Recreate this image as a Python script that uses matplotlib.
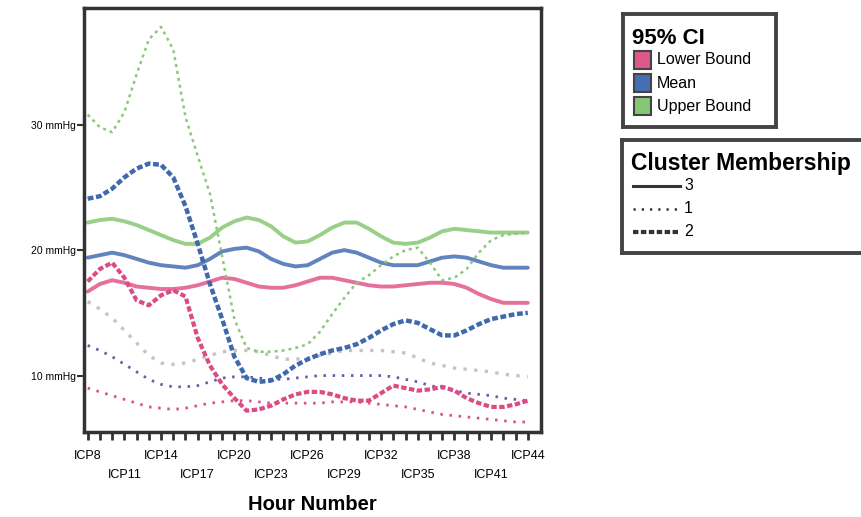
import numpy as np
import matplotlib
matplotlib.use("Agg")
import matplotlib.pyplot as plt
from matplotlib.patches import Rectangle
from matplotlib.lines import Line2D

plt.rcParams['font.family'] = ['Liberation Sans', 'DejaVu Sans']

hours = list(range(8, 45))
tick_labels = ["ICP%d" % h for h in hours]

# cluster 3 (solid)
c3_lower = [16.7, 17.3, 17.6, 17.4, 17.1, 17.0, 16.9, 16.9, 17.0, 17.2, 17.5, 17.8, 17.7,
            17.4, 17.1, 17.0, 17.0, 17.2, 17.5, 17.8, 17.8, 17.6, 17.4, 17.2, 17.1, 17.1,
            17.2, 17.3, 17.4, 17.4, 17.3, 17.0, 16.5, 16.1, 15.8, 15.8, 15.8]
c3_mean = [19.4, 19.6, 19.8, 19.6, 19.3, 19.0, 18.8, 18.7, 18.6, 18.8, 19.3, 19.9, 20.1,
           20.2, 19.9, 19.3, 18.9, 18.7, 18.8, 19.3, 19.8, 20.0, 19.8, 19.4, 19.0, 18.8,
           18.8, 18.8, 19.1, 19.4, 19.5, 19.4, 19.1, 18.8, 18.6, 18.6, 18.6]
c3_upper = [22.2, 22.4, 22.5, 22.3, 22.0, 21.6, 21.2, 20.8, 20.5, 20.5, 21.0, 21.8, 22.3,
            22.6, 22.4, 21.9, 21.1, 20.6, 20.7, 21.2, 21.8, 22.2, 22.2, 21.7, 21.1, 20.6,
            20.5, 20.6, 21.0, 21.5, 21.7, 21.6, 21.5, 21.4, 21.4, 21.4, 21.4]

# cluster 1 (dotted)
c1_lower = [9.0, 8.7, 8.4, 8.1, 7.8, 7.5, 7.4, 7.3, 7.4, 7.6, 7.8, 7.9, 8.0, 8.0, 7.9,
            7.8, 7.8, 7.8, 7.8, 7.8, 7.9, 7.9, 7.9, 7.8, 7.7, 7.6, 7.5, 7.3, 7.1, 6.9,
            6.8, 6.7, 6.6, 6.5, 6.4, 6.3, 6.3]
c1_mean = [12.4, 12.0, 11.5, 10.9, 10.3, 9.7, 9.3, 9.1, 9.1, 9.2, 9.5, 9.8, 9.9, 9.9,
           9.8, 9.7, 9.7, 9.8, 9.9, 10.0, 10.0, 10.0, 10.0, 10.0, 10.0, 9.9, 9.7, 9.5,
           9.2, 9.0, 8.8, 8.6, 8.5, 8.4, 8.2, 8.1, 8.0]
c1_upper = [15.9, 15.3, 14.6, 13.6, 12.6, 11.6, 11.0, 10.9, 11.0, 11.3, 11.6, 11.9, 12.0,
            12.0, 11.9, 11.6, 11.3, 11.3, 11.4, 11.6, 11.8, 12.0, 12.0, 12.0, 12.0, 11.9,
            11.8, 11.4, 11.0, 10.8, 10.6, 10.5, 10.4, 10.3, 10.1, 10.0, 9.9]

# cluster 2 (dashed)
c2_lower = [17.5, 18.5, 19.0, 17.8, 16.0, 15.6, 16.4, 16.8, 16.3, 13.0, 10.8, 9.3, 8.2,
            7.2, 7.3, 7.6, 8.1, 8.5, 8.7, 8.7, 8.5, 8.2, 8.0, 8.0, 8.6, 9.2, 9.0, 8.8,
            8.9, 9.1, 8.8, 8.2, 7.8, 7.5, 7.5, 7.7, 8.0]
c2_mean = [24.1, 24.3, 24.9, 25.8, 26.5, 26.9, 26.8, 25.8, 23.5, 20.5, 17.3, 14.5, 11.5,
           9.8, 9.5, 9.6, 10.1, 10.8, 11.3, 11.7, 12.0, 12.2, 12.5, 13.0, 13.6, 14.1,
           14.4, 14.2, 13.7, 13.2, 13.2, 13.6, 14.1, 14.5, 14.7, 14.9, 15.0]
c2_upper = [30.8, 29.8, 29.4, 31.0, 34.0, 36.8, 37.8, 36.0, 30.6, 27.5, 24.5, 19.5, 14.5,
            12.2, 11.9, 11.9, 12.0, 12.2, 12.5, 13.5, 14.9, 16.2, 17.4, 18.0, 18.8, 19.5,
            20.0, 20.2, 19.0, 17.6, 17.8, 18.5, 19.8, 20.8, 21.2, 21.3, 21.4]

pink = "#e0578a"
blue = "#456eb3"
green = "#86c774"

fig = plt.figure(figsize=(8.61, 5.17), dpi=100)
ax = fig.add_axes([0.0976, 0.1644, 0.531, 0.820])

solid = dict(lw=2.8, solid_capstyle="round", solid_joinstyle="round", alpha=0.85)
ax.plot(hours, c3_upper, color=green, **solid)
ax.plot(hours, c3_mean, color=blue, **solid)
ax.plot(hours, c3_lower, color=pink, **solid)

ax.plot(hours, c1_upper, color="#c4c4c4", lw=2.4, linestyle=(0, (1.0, 2.2)))
ax.plot(hours, c1_mean, color="#6a5ba6", lw=2.0, linestyle=(0, (0.9, 2.4)))
ax.plot(hours, c1_lower, color="#d9508a", lw=2.0, linestyle=(0, (0.9, 2.4)))

ax.plot(hours, c2_upper, color="#8cc77c", lw=1.8, linestyle=(0, (1.2, 1.6)))
ax.plot(hours, c2_mean, color="#3f69ad", lw=3.2, linestyle=(0, (1.3, 0.6)))
ax.plot(hours, c2_lower, color="#dc4b83", lw=3.0, linestyle=(0, (1.3, 0.6)))

ax.set_xlim(7.7, 45.1)
ax.set_ylim(5.5, 39.3)

ax.set_xticks(hours)
xl = []
for i, lab in enumerate(tick_labels):
    if i % 3 != 0:
        xl.append("")
    elif (i // 3) % 2 == 0:
        xl.append(lab)
    else:
        xl.append("\n" + lab)
ax.set_xticklabels(xl, fontsize=9, linespacing=1.75)
ax.tick_params(axis="x", length=6, width=2, color="#333333", pad=7)

ax.set_yticks([10, 20, 30])
ax.set_yticklabels(["10 mmHg", "20 mmHg", "30 mmHg"], fontsize=7.5)
ax.tick_params(axis="y", length=5, width=1.5, color="#333333", pad=1)

for s in ax.spines.values():
    s.set_linewidth(2.5)
    s.set_color("#333333")

ax.set_xlabel("Hour Number", fontsize=14.5, fontweight="bold", labelpad=10)

# legend for the confidence band colours
lg1 = fig.add_axes([623 / 861, 1 - 127 / 517, 153 / 861, 113 / 517])
lg1.set_xticks([])
lg1.set_yticks([])
for s in lg1.spines.values():
    s.set_linewidth(2.8)
    s.set_color("#444444")
lg1.set_xlim(0, 153)
lg1.set_ylim(113, 0)
lg1.text(9, 24, "95% CI", fontsize=16, fontweight="bold", va="center", ha="left")
for i, (name, col) in enumerate([("Lower Bound", pink), ("Mean", blue), ("Upper Bound", green)]):
    yc = 46 + 23 * i
    lg1.add_patch(Rectangle((11, yc - 9), 17, 18, facecolor=col, edgecolor="#444444", lw=1.5))
    lg1.text(34, yc, name, fontsize=11.5, va="center", ha="left")

# legend for the cluster line styles
lg2 = fig.add_axes([622 / 861, 1 - 253 / 517, 250 / 861, 113 / 517])
lg2.set_xticks([])
lg2.set_yticks([])
for s in lg2.spines.values():
    s.set_linewidth(2.8)
    s.set_color("#444444")
lg2.set_xlim(0, 250)
lg2.set_ylim(113, 0)
lg2.text(9, 24, "Cluster Membership", fontsize=16.5, fontweight="bold", va="center", ha="left")
styles = [("3", "-", 2.2), ("1", (0, (0.9, 2.4)), 1.8), ("2", (0, (1.3, 0.6)), 3.0)]
for i, (name, ls, lw) in enumerate(styles):
    yc = 46 + 23 * i
    lg2.add_line(Line2D([11, 58], [yc, yc], color="#333333", linestyle=ls, lw=lw))
    lg2.text(62, yc, name, fontsize=11.5, va="center", ha="left")

fig.savefig("out.png", dpi=100)
